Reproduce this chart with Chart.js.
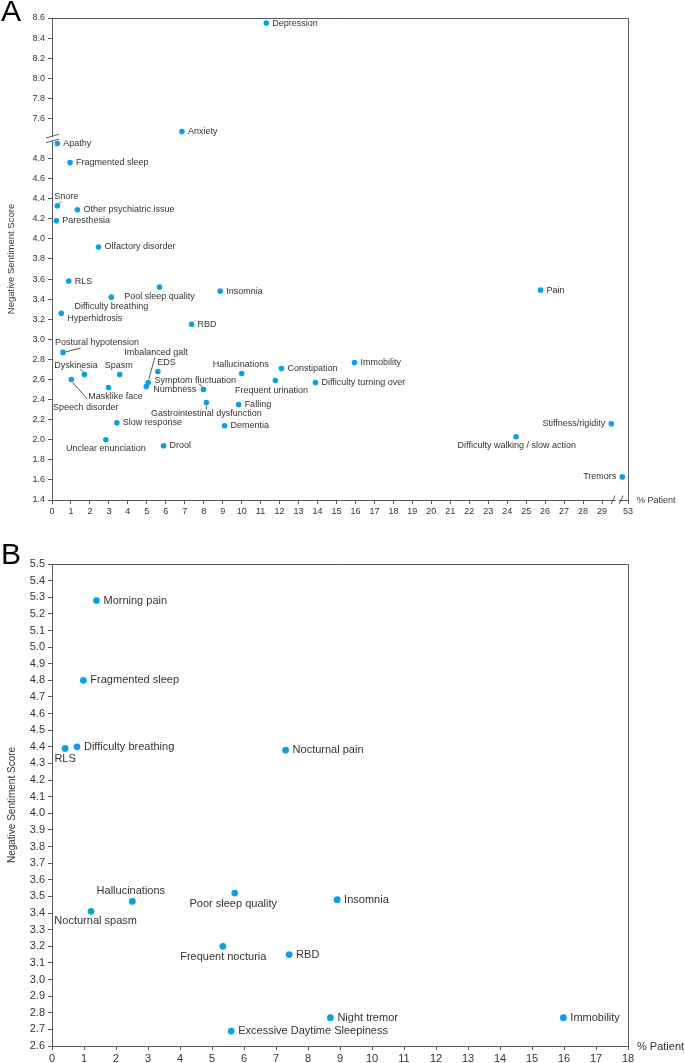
<!DOCTYPE html>
<html>
<head>
<meta charset="utf-8">
<script src="https://cdn.jsdelivr.net/npm/chart.js@4.4.1/dist/chart.umd.min.js"></script>
<style>
  body { margin: 0; background: #fff; }
  #wrap { position: relative; width: 685px; height: 1063px; }
  canvas { position: absolute; left: 0; }
  #chartA { top: 0; }
  #chartB { top: 532px; }
</style>
</head>
<body>
<div id="wrap">
  <canvas id="chartA" width="685" height="532"></canvas>
  <canvas id="chartB" width="685" height="531"></canvas>
</div>
<script>
// ---- Panel A data ----
const symptomsA = ["Depression", "Anxiety", "Apathy", "Fragmented sleep", "Snore",
  "Other psychiatric issue", "Paresthesia", "Olfactory disorder", "RLS", "Pool sleep quality",
  "Difficulty breathing", "Insomnia", "Hyperhidrosis", "RBD", "Pain", "Postural hypotension",
  "Imbalanced galt", "EDS", "Symptom fluctuation", "Numbness", "Dyskinesia", "Speech disorder",
  "Spasm", "Masklike face", "Hallucinations", "Constipation", "Frequent urination",
  "Difficulty turning over", "Immobility", "Gastrointestinal dysfunction", "Falling",
  "Slow response", "Dementia", "Unclear enunciation", "Drool", "Stiffness/rigidity",
  "Difficulty walking / slow action", "Tremors"];
const patientPctA = [11.3, 6.85, 0.28, 0.95, 0.28, 1.34, 0.23, 2.45, 0.88, 5.67,
  3.13, 8.87, 0.49, 7.36, 25.76, 0.58, 5.07, 5.58, 7.99, 4.97, 1.71, 1.02,
  3.57, 2.98, 10.0, 12.1, 11.78, 13.89, 15.95, 8.14, 9.84, 3.42, 9.1, 2.84, 5.88, 29.49,
  24.47, 52.7];
const sentimentA = [8.55, 7.47, 4.95, 4.76, 4.33, 4.29, 4.18, 3.92, 3.58, 3.52,
  3.42, 3.48, 3.26, 3.15, 3.49, 2.87, 2.57, 2.68, 2.50, 2.53, 2.65, 2.60,
  2.65, 2.52, 2.66, 2.71, 2.59, 2.57, 2.77, 2.37, 2.35, 2.17, 2.14, 2.00, 1.94, 2.16,
  2.03, 1.63];
const xTicksA = [0, 1, 2, 3, 4, 5, 6, 7, 8, 9, 10, 11, 12, 13, 14, 15, 16, 17, 18, 19,
  20, 21, 22, 23, 24, 25, 26, 27, 28, 29, 53];
const yTicksA = [1.4, 1.6, 1.8, 2.0, 2.2, 2.4, 2.6, 2.8, 3.0, 3.2, 3.4, 3.6, 3.8, 4.0,
  4.2, 4.4, 4.6, 4.8, 7.6, 7.8, 8.0, 8.2, 8.4, 8.6];

// ---- Panel B data ----
const symptomsB = ["Morning pain", "Fragmented sleep", "RLS", "Difficulty breathing",
  "Nocturnal pain", "Hallucinations", "Nocturnal spasm", "Poor sleep quality", "Insomnia",
  "Frequent nocturia", "RBD", "Night tremor", "Excessive Daytime Sleepiness", "Immobility"];
const patientPctB = [1.39, 0.98, 0.41, 0.78, 7.30, 2.51, 1.22, 5.71, 8.91, 5.34, 7.41, 8.70, 5.60, 15.98];
const sentimentB = [5.28, 4.80, 4.39, 4.40, 4.38, 3.47, 3.41, 3.52, 3.48, 3.20, 3.15, 2.77, 2.69, 2.77];
const xTicksB = [0, 1, 2, 3, 4, 5, 6, 7, 8, 9, 10, 11, 12, 13, 14, 15, 16, 17, 18];
const yTicksB = [2.6, 2.7, 2.8, 2.9, 3.0, 3.1, 3.2, 3.3, 3.4, 3.5, 3.6, 3.7, 3.8, 3.9,
  4.0, 4.1, 4.2, 4.3, 4.4, 4.5, 4.6, 4.7, 4.8, 4.9, 5.0, 5.1, 5.2, 5.3, 5.4, 5.5];

// axis breaks in panel A: y 5.0 -> 7.4 is cut out, x 30 -> 53 is squeezed
const Y_CUT = 2.4;
const X_CUT = 22.63;
const toAxisY = v => (v > 6 ? v - Y_CUT : v);
const toAxisX = v => (v > 40 ? v - X_CUT : v);

const DOT = "#0aa1e2";
const TEXT = "#333333";
const AXIS = "#555a60";
const FONT = "'Liberation Sans', Arial, sans-serif";

// label placement (align, offset from point, optional leader line)
const placeA = {
  "Snore": { align: "left", dx: -3, dy: -9, line: [1.5, -2, 4, -4.5] },
  "Pool sleep quality": { align: "center", dx: 0, dy: 9 },
  "Difficulty breathing": { align: "center", dx: 0, dy: 9.5 },
  "Hyperhidrosis": { align: "left", dx: 6, dy: 5.5 },
  "Postural hypotension": { align: "left", dx: -8, dy: -9.6, line: [2.7, -0.6, 17.7, -4.3] },
  "Imbalanced galt": { align: "center", dx: 7.8, dy: -30, line: [6.7, -25, 0.7, -3.5] },
  "EDS": { align: "left", dx: -0.7, dy: -8.5 },
  "Symptom fluctuation": { align: "center", dx: -8.3, dy: -9.3, line: [-4.3, -5.7, -0.7, -1.7] },
  "Numbness": { align: "left", dx: 7, dy: 2.7 },
  "Dyskinesia": { align: "center", dx: -8.5, dy: -9, line: [-4.3, -5.7, -1, -2.3] },
  "Speech disorder": { align: "left", dx: -18.3, dy: 27.6, line: [1.4, 3, 16, 19.6] },
  "Spasm": { align: "center", dx: -1, dy: -8.6 },
  "Masklike face": { align: "center", dx: 7, dy: 9 },
  "Hallucinations": { align: "center", dx: -1, dy: -8.7 },
  "Frequent urination": { align: "center", dx: -4, dy: 9.6 },
  "Gastrointestinal dysfunction": { align: "center", dx: 0, dy: 11, line: [0, 3.5, 0, 7] },
  "Unclear enunciation": { align: "center", dx: 0, dy: 9 },
  "Stiffness/rigidity": { align: "right", dx: -6, dy: 0 },
  "Difficulty walking / slow action": { align: "center", dx: 0.7, dy: 9 },
  "Tremors": { align: "right", dx: -6, dy: 0 },
};
const placeB = {
  "RLS": { align: "center", dx: 0, dy: 10.6 },
  "Hallucinations": { align: "center", dx: -1.5, dy: -10.7 },
  "Nocturnal spasm": { align: "center", dx: 4.6, dy: 10 },
  "Poor sleep quality": { align: "center", dx: -1.5, dy: 10.6 },
  "Frequent nocturia": { align: "center", dx: 0.4, dy: 10.7 },
};

function labelPlugin(names, place, fontSize, defDx) {
  return {
    id: "pointLabels",
    afterDatasetsDraw(chart) {
      const ctx = chart.ctx;
      const meta = chart.getDatasetMeta(0);
      ctx.save();
      ctx.font = fontSize + "px " + FONT;
      ctx.fillStyle = TEXT;
      ctx.strokeStyle = "#444";
      ctx.lineWidth = 0.9;
      ctx.textBaseline = "middle";
      meta.data.forEach((pt, i) => {
        const name = names[i];
        const p = Object.assign({ align: "left", dx: defDx, dy: 0 }, place[name] || {});
        ctx.textAlign = p.align;
        ctx.fillText(name, pt.x + p.dx, pt.y + p.dy);
        if (p.line) {
          ctx.beginPath();
          ctx.moveTo(pt.x + p.line[0], pt.y + p.line[1]);
          ctx.lineTo(pt.x + p.line[2], pt.y + p.line[3]);
          ctx.stroke();
        }
      });
      ctx.restore();
    },
  };
}

function framePlugin(letter, letterY, fontSize, breaks) {
  return {
    id: "frame",
    afterDraw(chart) {
      const ctx = chart.ctx;
      const a = chart.chartArea;
      ctx.save();
      ctx.strokeStyle = AXIS;
      ctx.lineWidth = 1;
      ctx.beginPath();
      ctx.moveTo(a.left, a.top + 0.5);
      ctx.lineTo(a.right + 0.5, a.top + 0.5);
      ctx.lineTo(a.right + 0.5, a.bottom);
      ctx.stroke();

      if (breaks) {
        const yb = chart.scales.y.getPixelForValue(5.0);
        const xl = a.left;
        ctx.fillStyle = "#fff";
        ctx.fillRect(xl - 2, yb - 2.2, 4, 4.6);
        ctx.beginPath();
        ctx.moveTo(xl - 6, yb - 0.5); ctx.lineTo(xl + 7, yb - 4.2);
        ctx.moveTo(xl - 6, yb + 4.2); ctx.lineTo(xl + 7, yb + 0.5);
        ctx.stroke();

        const xb = chart.scales.x.getPixelForValue(29.8);
        const yl = a.bottom;
        ctx.fillRect(xb - 1.6, yl - 2, 3.2, 4);
        ctx.beginPath();
        ctx.moveTo(xb - 6, yl + 4); ctx.lineTo(xb - 2, yl - 4.5);
        ctx.moveTo(xb + 2, yl + 4); ctx.lineTo(xb + 6, yl - 4.5);
        ctx.stroke();
      }

      ctx.fillStyle = TEXT;
      ctx.font = fontSize + "px " + FONT;
      ctx.textAlign = "left";
      ctx.textBaseline = "middle";
      ctx.fillText("% Patient", a.right + 9, a.bottom + 1);

      ctx.fillStyle = "#000";
      ctx.font = "30px " + FONT;
      ctx.textBaseline = "alphabetic";
      ctx.fillText(letter, 1, letterY);
      ctx.restore();
    },
  };
}

function makeChart(id, cfg) {
  const xs = cfg.x.map(cfg.mapX);
  const ys = cfg.y.map(cfg.mapY);
  return new Chart(document.getElementById(id), {
    type: "scatter",
    data: {
      datasets: [{
        data: xs.map((x, i) => ({ x: x, y: ys[i] })),
        backgroundColor: DOT,
        borderWidth: 0,
        pointRadius: cfg.radius,
      }],
    },
    options: {
      responsive: false,
      animation: false,
      layout: { padding: { top: cfg.top, right: 57, left: 0, bottom: 0 } },
      plugins: { legend: { display: false }, tooltip: { enabled: false } },
      scales: {
        x: {
          type: "linear",
          min: cfg.xMin, max: cfg.xMax,
          afterBuildTicks: s => { s.ticks = cfg.xTicks.map(v => ({ value: cfg.mapX(v) })); },
          afterFit: s => { s.height = cfg.xHeight; },
          ticks: {
            autoSkip: false, maxRotation: 0, padding: 2,
            color: TEXT, font: { family: FONT, size: cfg.tickSize },
            callback: (v, i) => String(cfg.xTicks[i]),
          },
          grid: { drawOnChartArea: false, drawTicks: true, tickLength: 4, color: AXIS },
          border: { display: true, color: AXIS },
        },
        y: {
          type: "linear",
          min: cfg.yMin, max: cfg.yMax,
          afterBuildTicks: s => { s.ticks = cfg.yTicks.map(v => ({ value: cfg.mapY(v) })); },
          afterFit: s => { s.width = 52; },
          ticks: {
            autoSkip: false, padding: 3,
            color: TEXT, font: { family: FONT, size: cfg.tickSize },
            callback: (v, i) => cfg.yTicks[i].toFixed(1),
          },
          title: {
            display: true, text: "Negative Sentiment Score", color: TEXT,
            font: { family: FONT, size: cfg.titleSize }, padding: { top: 6, bottom: 0 },
          },
          grid: { drawOnChartArea: false, drawTicks: true, tickLength: 4, color: AXIS },
          border: { display: true, color: AXIS },
        },
      },
    },
    plugins: [labelPlugin(cfg.names, cfg.place, cfg.labelSize, cfg.labelDx),
              framePlugin(cfg.letter, cfg.letterY, cfg.labelSize, cfg.breaks)],
  });
}

makeChart("chartA", {
  names: symptomsA, x: patientPctA, y: sentimentA, place: placeA,
  mapX: toAxisX, mapY: toAxisY, xTicks: xTicksA, yTicks: yTicksA,
  xMin: 0, xMax: toAxisX(53), yMin: 1.4, yMax: toAxisY(8.6),
  top: 18, xHeight: 32, radius: 2.8, tickSize: 9, labelSize: 9, titleSize: 9.5,
  labelDx: 6, letter: "A", letterY: 21, breaks: true,
});

makeChart("chartB", {
  names: symptomsB, x: patientPctB, y: sentimentB, place: placeB,
  mapX: v => v, mapY: v => v, xTicks: xTicksB, yTicks: yTicksB,
  xMin: 0, xMax: 18, yMin: 2.6, yMax: 5.5,
  top: 32, xHeight: 17, radius: 3.4, tickSize: 11, labelSize: 11, titleSize: 10,
  labelDx: 7, letter: "B", letterY: 32, breaks: false,
});
</script>
</body>
</html>
